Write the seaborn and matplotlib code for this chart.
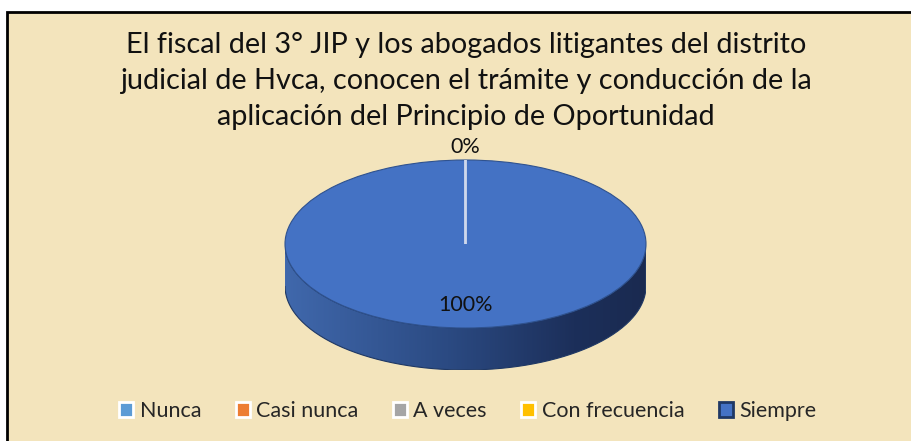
import numpy as np
import matplotlib
matplotlib.use("Agg")
import matplotlib.pyplot as plt
import seaborn as sns
from matplotlib.patches import Rectangle, Patch, PathPatch
from matplotlib.path import Path
from matplotlib.colors import LinearSegmentedColormap

# ---- data ----
categories = ["Nunca", "Casi nunca", "A veces", "Con frecuencia", "Siempre"]
values = [0, 0, 0, 0, 100]
colors = ["#5B9BD5", "#ED7D31", "#A5A5A5", "#FFC000", "#4472C4"]
title_lines = [
    "El fiscal del 3° JIP y los abogados litigantes del distrito",
    "judicial de Hvca, conocen el trámite y conducción de la",
    "aplicación del Principio de Oportunidad",
]

sns.set_theme(style="white")
plt.rcParams['font.family'] = ['Lato', 'DejaVu Sans']

W, H = 911, 441
fig = plt.figure(figsize=(W / 100, H / 100), dpi=100)
fig.patch.set_facecolor("white")

# chart area background with border
bg = fig.add_axes([0, 0, 1, 1])
bg.set_xlim(0, W)
bg.set_ylim(H, 0)
bg.axis('off')
bg.add_patch(Rectangle((7, 12), W + 20, H + 20, facecolor="#F3E4BC",
                       edgecolor="black", lw=2))

# title, fitted to the reference width
renderer = fig.canvas.get_renderer()
target_w = 683
fs = 20
probe = fig.text(0, 0, title_lines[0], fontsize=fs)
w = probe.get_window_extent(renderer).width
probe.remove()
fs = fs * target_w / w
for i, line in enumerate(title_lines):
    fig.text(466 / W, 1 - (53 + 36 * i) / H, line, fontsize=fs,
             ha='center', va='baseline', color='#111111')

# pie axes: top face spans x 285..646, y 160..328; side down to ~370
x0, x1 = 285, 646
ytop, ybot = 160, 370
ax = fig.add_axes([x0 / W, 1 - ybot / H, (x1 - x0) / W, (ybot - ytop) / H])
depth = 0.5

# side of the cylinder with gradient
t = np.linspace(np.pi, 2 * np.pi, 200)
pts = np.concatenate([np.c_[np.cos(t), np.sin(t)],
                      np.c_[np.cos(t[::-1]), np.sin(t[::-1]) - depth]])
side = PathPatch(Path(pts, closed=False), facecolor='none',
                 edgecolor='#1F3864', lw=0.8, zorder=1)
ax.add_patch(side)
cmap = LinearSegmentedColormap.from_list(
    "side", [(0, "#4068AC"), (0.45, "#2B4A82"), (0.8, "#1C2F5A"), (1, "#1A2A50")])
grad = np.linspace(0, 1, 256)[None, :]
im = ax.imshow(grad, extent=(-1, 1, -1 - depth, 0), cmap=cmap, aspect='auto',
               zorder=0.5)
im.set_clip_path(side)

# top face
wedges, _ = ax.pie(values, colors=colors, startangle=90, counterclock=False,
                   radius=1, center=(0, 0),
                   wedgeprops=dict(edgecolor='#2F528F', linewidth=0.8))
for wd, v in zip(wedges, values):
    wd.set_zorder(2)
    if v == 0:
        wd.set_zorder(3)
        wd.set_edgecolor('#CFD8EC')
        wd.set_linewidth(1.4)
ax.set_aspect('auto')
ax.set_xlim(-1, 1)
ax.set_ylim(-1 - depth, 1)
ax.axis('off')

# data labels
total = sum(values)
pcts = [v / total * 100 for v in values]
ax.text(0, 1.155, f"{pcts[0]:.0f}%", ha='center', va='center', fontsize=15.5,
        color='#111111')
ax.text(0, -0.726, f"{pcts[-1]:.0f}%", ha='center', va='center', fontsize=15.5,
        color='#111111')

# legend
edge_cols = ['white', 'white', 'white', 'white', '#1F3864']
handles = [Patch(facecolor=c, edgecolor=e, lw=2) for c, e in zip(colors, edge_cols)]
fig.legend(handles, categories, loc='center', ncol=5,
           bbox_to_anchor=(468 / W, 1 - 411 / H), frameon=False,
           fontsize=15.5, handlelength=0.65, handleheight=0.65,
           handletextpad=0.3, columnspacing=1.6)

fig.savefig("out.png", dpi=100, facecolor=fig.get_facecolor())
